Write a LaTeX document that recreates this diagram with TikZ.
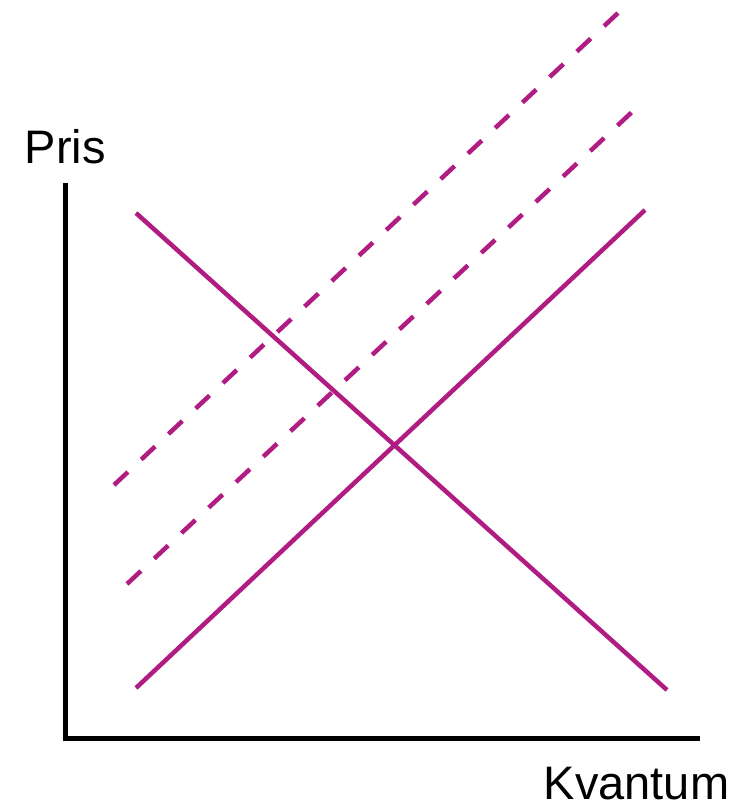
\documentclass[tikz,border=0pt]{standalone}
\usepackage{fontspec}
\setmainfont{Liberation Sans}
\definecolor{curve}{RGB}{176,28,130}
\begin{document}
\begin{tikzpicture}[x=1pt,y=-1pt,
  axis/.style={line width=5pt,black},
  curveline/.style={line width=4.5pt,curve},
  shifted/.style={curveline,dash pattern=on 19pt off 18.3pt},
  lbl/.style={inner sep=0pt,anchor=base west,font=\fontsize{47}{47}\selectfont}]
\useasboundingbox (0,0) rectangle (736,804);
% axes
\coordinate (ytop) at (65.5,183);
\coordinate (origin) at (65.5,738);
\coordinate (xend) at (700,738);
\draw[axis] (ytop) -- (65.5,735.5);
\draw[axis] (63,738) -- (xend);
% labels
\node[lbl] (pris) at (24.5,163) {Pris};
\node[lbl] (kvantum) at (543.5,799) {Kvantum};
% demand
\coordinate (d1) at (136,213);
\coordinate (d2) at (667,690);
\draw[curveline] (d1) -- (d2);
% supply
\coordinate (s1) at (136,688);
\coordinate (s2) at (645,210);
\draw[curveline] (s1) -- (s2);
% shifted supply curves
\coordinate (a1) at (127,584);
\coordinate (a2) at (632,112);
\draw[shifted] (a1) -- (a2);
\coordinate (b1) at (114,485);
\coordinate (b2) at (618,13);
\draw[shifted] (b1) -- (b2);
\end{tikzpicture}
\end{document}
